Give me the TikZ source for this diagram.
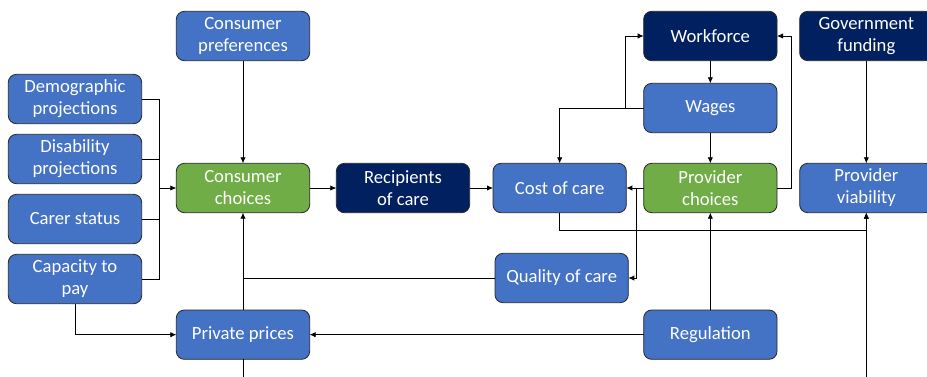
\documentclass[tikz,border=0pt]{standalone}
\usepackage{fontspec}
\setmainfont{Carlito}
\usetikzlibrary{arrows.meta,positioning,calc}
\definecolor{midblue}{RGB}{68,114,196}
\definecolor{navy}{RGB}{0,32,96}
\definecolor{leaf}{RGB}{112,173,71}

\begin{document}
\begin{tikzpicture}[% styles for all boxes and connectors
			every node/.style={
				align=center,		% so that "\\" breaks the line
				minimum width=100pt,
				minimum height=37pt,
				outer sep=0pt,
				rounded corners=6pt,
				draw=black!85,
				line width=0.6pt,
				text=white,
				inner sep=2pt,
				font=\fontsize{14}{16.5}\selectfont
			},
			every edge/.style={draw,line width=0.6pt},
			>={Latex[length=4.5pt,width=4pt]},
			line width=0.6pt
		]
		\useasboundingbox (-182.25pt,-141pt) rectangle (513pt,141pt);
		\clip (-182.25pt,-141pt) rectangle (513pt,141pt);
		% middle row
		\node[fill=leaf](Choice) at (0,0){Consumer\\choices};
		\node[fill=navy](Recip)[right=20pt of Choice]{Recipients\\of care};
		\node[fill=midblue](Cost)[right=17.5pt of Recip]{Cost of care};
		\node[fill=leaf](Prov)[right=13pt of Cost]{Provider\\choices};
		\node[fill=midblue](Viab)[right=17pt of Prov]{Provider\\viability};
		% top
		\node[fill=midblue](Pref)[above=77pt of Choice]{Consumer\\preferences};
		\node[fill=midblue](Wage)[above=23pt of Prov]{Wages};
		\node[fill=navy](Work)[above=17pt of Wage]{Workforce};
		\node[fill=navy](Gov)[above=77pt of Viab]{Government\\funding};
		% left column
		\node[fill=midblue,yshift=-23.25pt](Carer)[left=26pt of Choice]{Carer status};
		\node[fill=midblue](Disab)[above=8pt of Carer]{Disability\\projections};
		\node[fill=midblue](Demo)[above=8pt of Disab]{Demographic\\projections};
		\node[fill=midblue](Pay)[below=8pt of Carer]{Capacity to\\pay};
		% bottom
		\node[fill=midblue,xshift=1.5pt](Qual)[below=30.5pt of Cost]{Quality of care};
		\node[fill=midblue](Price)[below=73pt of Choice]{Private prices};
		\node[fill=midblue](Reg)[below=73pt of Prov]{Regulation};
		\path[->]
		(Pref)edge []	(Choice)
		(Choice)edge []	(Recip)
		(Recip)edge []	(Cost)
		(Prov)edge []	(Cost)
		(Work)edge []	(Wage)
		(Wage)edge []	(Prov)
		(Gov)edge []	(Viab)
		(Price)edge []	(Choice)
		(Reg)edge []	(Prov)
		(Reg)edge []	(Price)
		;
		% bends
		\coordinate (Bus) at ($(Demo.east)!.5!(Choice.west)$);
		\draw (Demo.east) -| (Bus |- Pay.east) -- (Pay.east);
		\draw (Disab.east) -- (Bus |- Disab.east);
		\draw (Carer.east) -- (Bus |- Carer.east);
		\draw[->] (Bus |- Choice.west) -- (Choice.west);
		\draw[->] (Pay.south) |- (Price.west);
		\draw (Qual.west) -- (Qual.west -| Choice.south);
		\draw[->] (Wage.west) -| (Cost.north);
		\draw[->] (Wage.west) -- ++(-13.5pt,0) |- (Work.west);
		\draw[->] (Prov.east) -- ++(10.5pt,0) |- (Work.east);
		\draw[->] (Prov.west) -- ++(-5.25pt,0) |- (Qual.east);
		\draw[->] (Cost.south) -- ++(0,-13.5pt) -| (Viab.south);
		\draw[->] (Price.south) -- ++(0,-40pt) -| (Viab.south);
	\end{tikzpicture}
\end{document}
